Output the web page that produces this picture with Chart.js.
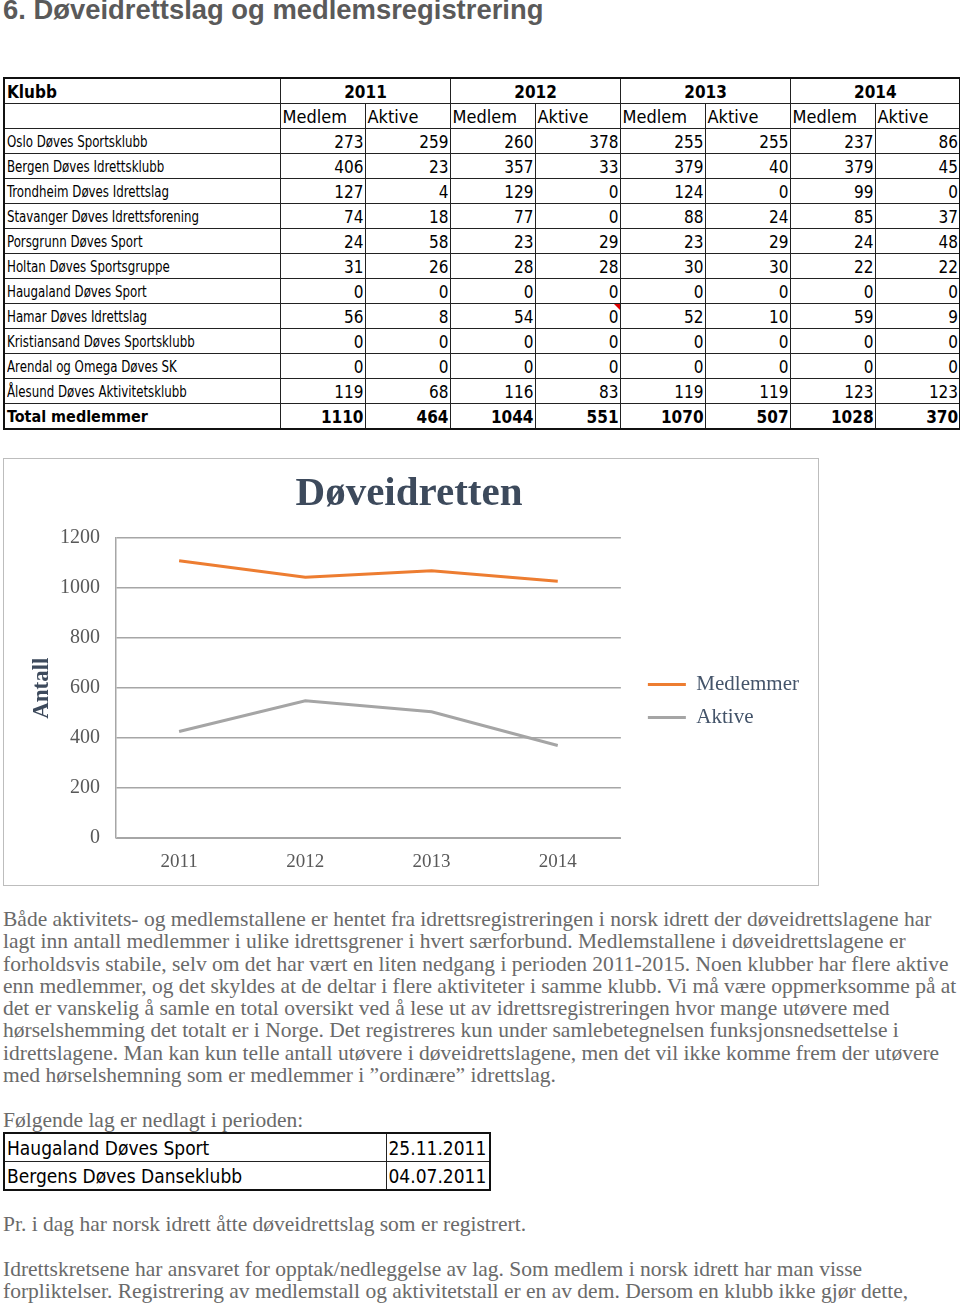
<!DOCTYPE html>
<html>
<head>
<meta charset="utf-8">
<script src="https://cdn.jsdelivr.net/npm/chart.js@4"></script>
<style>
  body { margin: 0; width: 960px; height: 1303px; position: relative; background: #fff; overflow: hidden; }
  .abs { position: absolute; }
  #heading { left: 3px; top: -6px; font: bold 27.4px "Liberation Sans", Arial, sans-serif; color: #5a5a5a; white-space: nowrap; }
  #clubTable { left: 3px; top: 77px; border-collapse: collapse; table-layout: fixed; width: 956px;
    font-family: "Liberation Sans Narrow", "DejaVu Sans Condensed", sans-serif; border: 2px solid #111; }
  #clubTable td { border: 1.5px solid #222; padding: 0 1px 0 2px; height: 24px; font-size: 16px; white-space: nowrap; overflow: hidden; vertical-align: bottom; line-height: 22px; }
  #clubTable td.num { text-align: right; font-size: 17px; }
  #clubTable tr.year td { font-weight: bold; text-align: center; font-size: 17px; }
  #clubTable tr.year td.first { text-align: left; }
  #clubTable tr.sub td { font-size: 18px; }
  #clubTable tr.total td { font-weight: bold; }
  .narrow { display: inline-block; transform: scaleX(0.82); transform-origin: left center; }
  #chartBox { left: 3px; top: 458px; width: 816px; height: 428px; border: 1px solid #bdbdbd; box-sizing: border-box; }
  .para { left: 3px; font: 21.5px "Liberation Serif", "DejaVu Serif", serif; color: #6a6a6a; white-space: nowrap; line-height: 22.3px; }
  #closedTable { left: 3px; top: 1132px; border-collapse: collapse; table-layout: fixed; width: 486px; border: 2px solid #111;
    font-family: "Liberation Sans Narrow", "DejaVu Sans Condensed", sans-serif; }
  #closedTable td { border: 1.5px solid #222; height: 27px; padding: 0 2px; font-size: 19px; white-space: nowrap; line-height: 26px; vertical-align: bottom; }
  .flag { position: absolute; width: 0; height: 0; border-top: 6px solid #d00; border-left: 6px solid transparent; }
</style>
</head>
<body>
<div id="heading" class="abs">6. Døveidrettslag og medlemsregistrering</div>

<table id="clubTable" class="abs"></table>

<div id="chartBox" class="abs"><canvas id="chart" width="814" height="426"></canvas></div>

<div class="para abs" style="top:908px">
Både aktivitets- og medlemstallene er hentet fra idrettsregistreringen i norsk idrett der døveidrettslagene har<br>
lagt inn antall medlemmer i ulike idrettsgrener i hvert særforbund. Medlemstallene i døveidrettslagene er<br>
forholdsvis stabile, selv om det har vært en liten nedgang i perioden 2011-2015. Noen klubber har flere aktive<br>
enn medlemmer, og det skyldes at de deltar i flere aktiviteter i samme klubb. Vi må være oppmerksomme på at<br>
det er vanskelig å samle en total oversikt ved å lese ut av idrettsregistreringen hvor mange utøvere med<br>
hørselshemming det totalt er i Norge. Det registreres kun under samlebetegnelsen funksjonsnedsettelse i<br>
idrettslagene. Man kan kun telle antall utøvere i døveidrettslagene, men det vil ikke komme frem der utøvere<br>
med hørselshemning som er medlemmer i ”ordinære” idrettslag.
</div>

<div class="para abs" style="top:1109px">Følgende lag er nedlagt i perioden:</div>
<table id="closedTable" class="abs"></table>

<div class="para abs" style="top:1213px">Pr. i dag har norsk idrett åtte døveidrettslag som er registrert.</div>
<div class="para abs" style="top:1258px">
Idrettskretsene har ansvaret for opptak/nedleggelse av lag. Som medlem i norsk idrett har man visse<br>
forpliktelser. Registrering av medlemstall og aktivitetstall er en av dem. Dersom en klubb ikke gjør dette,
</div>

<script>
// Table data
const tableYears = ['2011', '2012', '2013', '2014'];
const clubs = [
    'Oslo Døves Sportsklubb',
    'Bergen Døves Idrettsklubb',
    'Trondheim Døves Idrettslag',
    'Stavanger Døves Idrettsforening',
    'Porsgrunn Døves Sport',
    'Holtan Døves Sportsgruppe',
    'Haugaland Døves Sport',
    'Hamar Døves Idrettslag',
    'Kristiansand Døves Sportsklubb',
    'Arendal og Omega Døves SK',
    'Ålesund Døves Aktivitetsklubb'
];
// medlem/aktive per year: 2011, 2012, 2013, 2014
const clubValues = [
    [273, 259, 260, 378, 255, 255, 237, 86],
    [406, 23, 357, 33, 379, 40, 379, 45],
    [127, 4, 129, 0, 124, 0, 99, 0],
    [74, 18, 77, 0, 88, 24, 85, 37],
    [24, 58, 23, 29, 23, 29, 24, 48],
    [31, 26, 28, 28, 30, 30, 22, 22],
    [0, 0, 0, 0, 0, 0, 0, 0],
    [56, 8, 54, 0, 52, 10, 59, 9],
    [0, 0, 0, 0, 0, 0, 0, 0],
    [0, 0, 0, 0, 0, 0, 0, 0],
    [119, 68, 116, 83, 119, 119, 123, 123]
];
const totals = [1110, 464, 1044, 551, 1070, 507, 1028, 370];

const closedClubs = ['Haugaland Døves Sport', 'Bergens Døves Danseklubb'];
const closedDates = ['25.11.2011', '04.07.2011'];

// Chart data
const chartYears = ['2011', '2012', '2013', '2014'];
const medlemmer = [1110, 1044, 1070, 1028];
const aktive = [427, 550, 506, 371];
const yTicks = [0, 200, 400, 600, 800, 1000, 1200];

// Build the club table
function buildClubTable() {
    const t = document.getElementById('clubTable');
    let html = '<colgroup><col style="width:276px">' + '<col style="width:85px">'.repeat(8) + '</colgroup>';
    html += '<tr class="year"><td class="first">Klubb</td>' +
        tableYears.map(y => `<td colspan="2">${y}</td>`).join('') + '</tr>';
    html += '<tr class="sub"><td></td>' + tableYears.map(() => '<td>Medlem</td><td>Aktive</td>').join('') + '</tr>';
    clubs.forEach((club, i) => {
        html += `<tr><td><span class="narrow">${club}</span></td>` + clubValues[i].map(v => `<td class="num">${v}</td>`).join('') + '</tr>';
    });
    html += '<tr class="total"><td>Total medlemmer</td>' + totals.map(v => `<td class="num">${v}</td>`).join('') + '</tr>';
    t.innerHTML = html;

    // comment marker on Hamar 2012 Aktive
    const cell = t.rows[2 + 7].cells[4];
    const flag = document.createElement('div');
    flag.className = 'flag';
    cell.style.position = 'relative';
    flag.style.right = '0px';
    flag.style.top = '0px';
    cell.appendChild(flag);
}

function buildClosedTable() {
    const t = document.getElementById('closedTable');
    t.innerHTML = '<colgroup><col style="width:382px"><col style="width:104px"></colgroup>' +
        closedClubs.map((c, i) => `<tr><td>${c}</td><td>${closedDates[i]}</td></tr>`).join('');
}

buildClubTable();
buildClosedTable();

// Nudge the legend a bit right and down, as in the original
const legendNudge = {
    id: 'legendNudge',
    afterLayout(chart) {
        const lg = chart.legend;
        lg.left += 15;
        lg.right += 15;
        lg.top += 29;
        lg.bottom += 29;
    }
};

// Line chart
const serif = '"Liberation Serif", "DejaVu Serif", serif';
new Chart(document.getElementById('chart').getContext('2d'), {
    type: 'line',
    data: {
        labels: chartYears,
        datasets: [
            { label: 'Medlemmer', data: medlemmer, borderColor: '#ED7D31', backgroundColor: '#ED7D31', borderWidth: 3, pointRadius: 0, tension: 0 },
            { label: 'Aktive', data: aktive, borderColor: '#A5A5A5', backgroundColor: '#A5A5A5', borderWidth: 3, pointRadius: 0, tension: 0 }
        ]
    },
    plugins: [legendNudge],
    options: {
        responsive: false,
        animation: false,
        layout: { padding: { left: 20, right: 24, top: 0, bottom: 0 } },
        plugins: {
            title: {
                display: true,
                text: 'Døveidretten',
                color: '#3d4a5c',
                font: { family: serif, size: 41, weight: 'bold' },
                padding: { top: 11, bottom: 19 }
            },
            legend: {
                position: 'right',
                labels: {
                    usePointStyle: true,
                    pointStyle: 'line',
                    pointStyleWidth: 38,
                    color: '#44546a',
                    font: { family: serif, size: 21 },
                    padding: 12
                }
            },
            tooltip: { enabled: false }
        },
        scales: {
            x: {
                offset: true,
                grid: { display: false, drawTicks: false },
                border: { display: true, color: '#a6a6a6' },
                ticks: { color: '#595959', font: { family: serif, size: 19 }, padding: 12 }
            },
            y: {
                min: 0,
                max: 1200,
                afterBuildTicks: axis => { axis.ticks = yTicks.map(v => ({ value: v })); },
                afterFit: axis => { axis.width = 92; },
                grid: { color: '#a6a6a6', lineWidth: 1.5, drawTicks: false },
                border: { display: true, color: '#a6a6a6', width: 1.5 },
                ticks: { color: '#595959', font: { family: serif, size: 20 }, padding: 16, callback: v => String(v) },
                title: {
                    display: true,
                    text: 'Antall',
                    color: '#3d4a5c',
                    font: { family: serif, size: 23, weight: 'bold' }
                }
            }
        }
    }
});
</script>
</body>
</html>
